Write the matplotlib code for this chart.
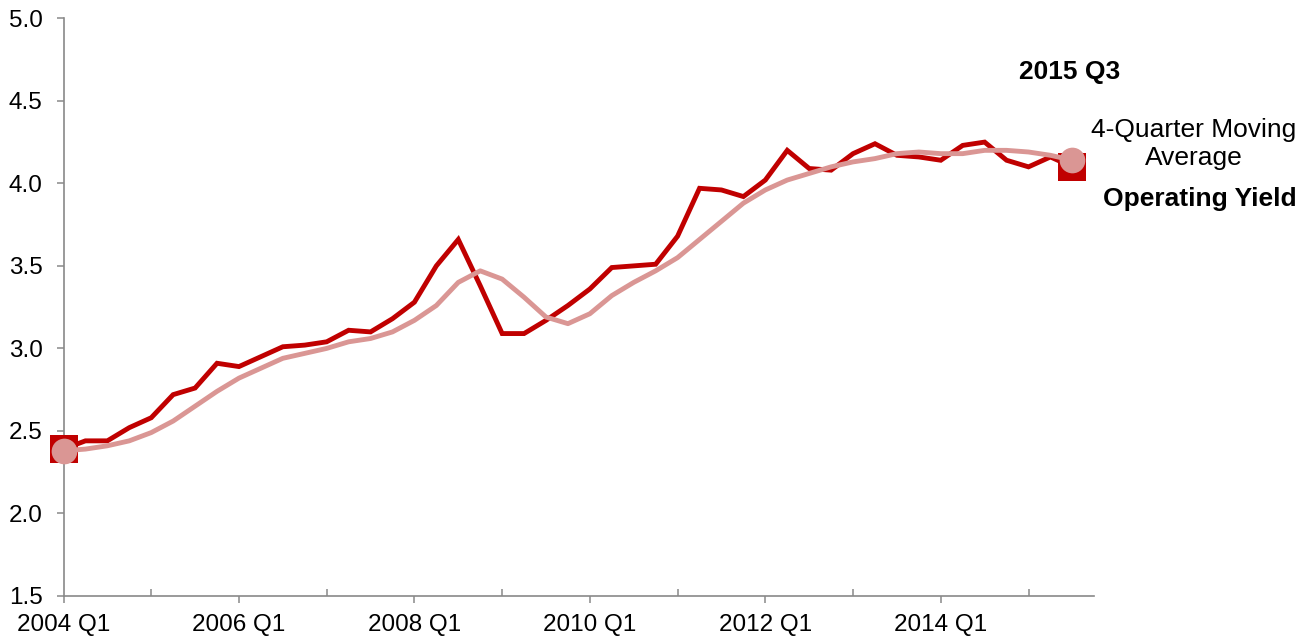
import matplotlib
matplotlib.use('Agg')
import matplotlib.pyplot as plt

plt.rcParams['font.family'] = ['Liberation Sans', 'DejaVu Sans']

# ========================
# data
# ========================
years = list(range(2004, 2016))
quarters = [f'{y} Q{q}' for y in years for q in range(1, 5)][:47]  # 2004 Q1 .. 2015 Q3

operating_yield = [
    2.39, 2.44, 2.44, 2.52, 2.58, 2.72, 2.76, 2.91, 2.89, 2.95,
    3.01, 3.02, 3.04, 3.11, 3.10, 3.18, 3.28, 3.50, 3.66, 3.38,
    3.09, 3.09, 3.17, 3.26, 3.36, 3.49, 3.50, 3.51, 3.68, 3.97,
    3.96, 3.92, 4.02, 4.20, 4.09, 4.08, 4.18, 4.24, 4.17, 4.16,
    4.14, 4.23, 4.25, 4.14, 4.10, 4.16, 4.10,
]

moving_avg = [
    2.38, 2.39, 2.41, 2.44, 2.49, 2.56, 2.65, 2.74, 2.82, 2.88,
    2.94, 2.97, 3.00, 3.04, 3.06, 3.10, 3.17, 3.26, 3.40, 3.47,
    3.42, 3.31, 3.19, 3.15, 3.21, 3.32, 3.40, 3.47, 3.55, 3.66,
    3.77, 3.88, 3.96, 4.02, 4.06, 4.10, 4.13, 4.15, 4.18, 4.19,
    4.18, 4.18, 4.20, 4.20, 4.19, 4.17, 4.14,
]

tick_labels = ['2004 Q1', '2006 Q1', '2008 Q1', '2010 Q1', '2012 Q1', '2014 Q1']

DARK = '#C00000'
LIGHT = '#DA9694'
AXIS = '#898989'

fig = plt.figure(figsize=(13.06, 6.40), dpi=100)
ax = fig.add_axes([63.5 / 1306, 1 - 596 / 640, (1094.3 - 63.5) / 1306, (596 - 18.3) / 640])

x = list(range(len(quarters)))
last = len(quarters) - 1

ax.plot(x, operating_yield, color=DARK, lw=3.5, solid_joinstyle='miter',
        marker='s', markevery=[0, last], markersize=19.5, markeredgewidth=0,
        zorder=3, clip_on=False)
ax.plot(x, moving_avg, color=LIGHT, lw=3.5, solid_joinstyle='round',
        marker='o', markevery=[0, last], markersize=18.5, markeredgewidth=0,
        zorder=4, clip_on=False)

ax.set_xlim(0, 47)
ax.set_ylim(1.5, 5.0)

ax.set_yticks([1.5, 2.0, 2.5, 3.0, 3.5, 4.0, 4.5, 5.0])
ax.set_yticklabels([f'{v:.1f}' for v in ax.get_yticks()])

major = [quarters.index(t) for t in tick_labels]
ax.set_xticks(major)
ax.set_xticklabels(tick_labels)
ax.set_xticks([m + 4 for m in major], minor=True)

for side in ['top', 'right']:
    ax.spines[side].set_visible(False)
for side in ['left', 'bottom']:
    ax.spines[side].set_color(AXIS)
    ax.spines[side].set_linewidth(1.2)
    ax.spines[side].set_zorder(1)

ax.tick_params(axis='y', direction='out', length=5, width=1.1, color=AXIS,
               labelsize=17.5, pad=10)
ax.tick_params(axis='x', which='major', direction='out', length=5, width=1.1,
               color=AXIS, labelsize=17.5, pad=8)
ax.tick_params(axis='x', which='minor', direction='in', length=5, width=1.1, color=AXIS)

# annotations on the right
def px(xp, yp):
    return xp / 1306, 1 - yp / 640

fig.text(*px(1070, 72), '2015 Q3', fontsize=19, fontweight='bold',
         ha='center', va='center')
fig.text(*px(1194, 144), '4-Quarter Moving\nAverage', fontsize=19,
         ha='center', va='center', linespacing=1.25)
fig.text(*px(1200, 199), 'Operating Yield', fontsize=19, fontweight='bold',
         ha='center', va='center')

fig.savefig('out.png', dpi=100)
